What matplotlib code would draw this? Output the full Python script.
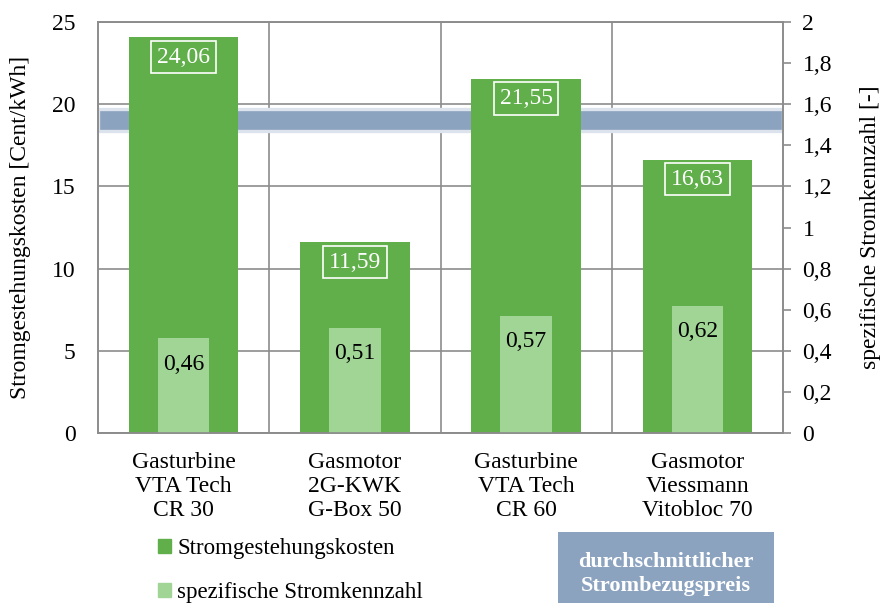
import matplotlib
matplotlib.use('Agg')
from matplotlib import pyplot as plt
from matplotlib.patches import Patch
from matplotlib.ticker import FuncFormatter

# data
categories = ['Gasturbine\nVTA Tech\nCR 30', 'Gasmotor\n2G-KWK\nG-Box 50',
              'Gasturbine\nVTA Tech\nCR 60', 'Gasmotor\nViessmann\nVitobloc 70']
kosten = [24.06, 11.59, 21.55, 16.63]
kennzahl = [0.46, 0.51, 0.57, 0.62]
preis_band = [18.35, 19.7]

dark_green = '#60AF4B'
light_green = '#A0D595'
band_blue = '#8CA3C0'
grid_grey = '#8C8C8C'

plt.rcParams['font.family'] = ['Liberation Serif', 'DejaVu Serif']
plt.rcParams['font.size'] = 17

fig = plt.figure(figsize=(8.84, 6.03), dpi=100)
ax = fig.add_axes([98 / 884, 1 - 433 / 603, (783 - 98) / 884, (433 - 22) / 603])
x = list(range(len(categories)))

ax.axhspan(preis_band[0], preis_band[1], facecolor=band_blue, edgecolor='#DCE3ED', lw=2.4, zorder=1)
bars = ax.bar(x, kosten, width=0.64, color=dark_green, zorder=2)
for b, v in zip(bars, kosten):
    ax.text(b.get_x() + b.get_width() / 2, v - 1.2, f'{v:.2f}'.replace('.', ','),
            ha='center', va='center', color='white', fontsize=17, zorder=3,
            bbox=dict(facecolor='none', edgecolor='white', lw=1.2, pad=4))

ax.set_xlim(-0.5, 3.5)
ax.set_ylim(0, 25)
ax.set_yticks(range(0, 26, 5))
ax.set_xticks(x)
ax.set_xticklabels(categories, linespacing=1.17, fontsize=17)
ax.set_xticks([0.5, 1.5, 2.5], minor=True)
ax.tick_params(axis='x', which='both', length=0, pad=14)
ax.tick_params(axis='y', length=0, pad=16)
ax.grid(axis='y', color=grid_grey, lw=1.2, zorder=0)
ax.grid(axis='x', which='minor', color=grid_grey, lw=1.2, zorder=0)
ax.set_axisbelow(True)
for s in ax.spines.values():
    s.set_color(grid_grey)
    s.set_linewidth(1.2)
ax.set_ylabel('Stromgestehungskosten [Cent/kWh]', fontsize=17, labelpad=15)

ax2 = ax.twinx()
lbars = ax2.bar(x, kennzahl, width=0.30, color=light_green, zorder=2)
for b, v in zip(lbars, kennzahl):
    ax2.text(b.get_x() + b.get_width() / 2, v - 0.125, f'{v:.2f}'.replace('.', ','),
             ha='center', va='center', color='black', fontsize=17)
ax2.set_ylim(0, 2)
ax2.set_yticks([i / 5 for i in range(11)])
ax2.yaxis.set_major_formatter(FuncFormatter(lambda v, p: f'{v:g}'.replace('.', ',')))
ax2.tick_params(axis='y', length=6, color=grid_grey, width=1.2, pad=8)
for s in ax2.spines.values():
    s.set_color(grid_grey)
    s.set_linewidth(1.2)
ax2.set_ylabel('spezifische Stromkennzahl [-]', fontsize=17, labelpad=20)

handles = [Patch(color=dark_green), Patch(color=light_green)]
fig.legend(handles, ['Stromgestehungskosten', 'spezifische Stromkennzahl'],
           loc='upper left', bbox_to_anchor=(158 / 884, 1 - 538 / 603), frameon=False,
           handlelength=0.55, handleheight=0.55, handletextpad=0.3, labelspacing=1.0,
           fontsize=16.5, borderaxespad=0, borderpad=0)

fig.text(666 / 884, 1 - 574 / 603, 'durchschnittlicher\nStrombezugspreis', ha='center', va='center',
         color='white', fontweight='bold', fontsize=16, linespacing=1.3,
         bbox=dict(facecolor=band_blue, edgecolor='none', boxstyle='square,pad=0.9'))

fig.savefig('out.png', dpi=100)
